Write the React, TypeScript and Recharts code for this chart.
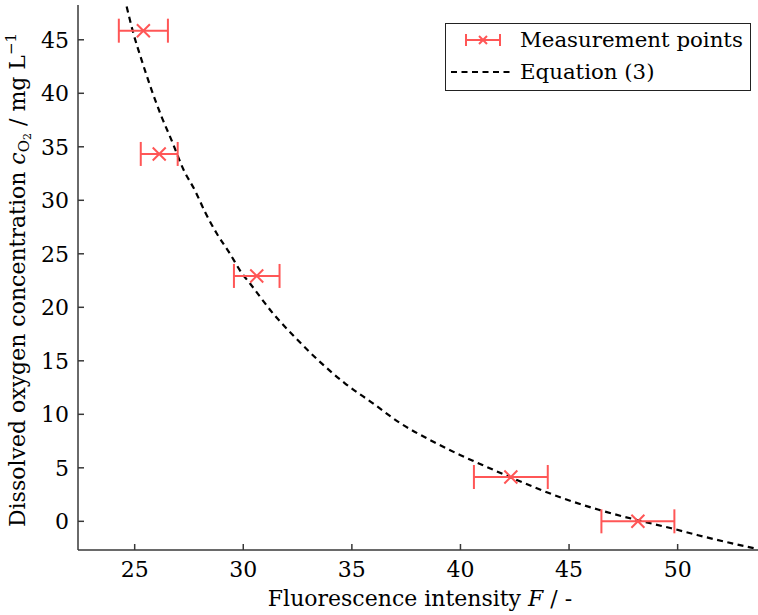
import React from "react";
import {
  ComposedChart,
  Line,
  Scatter,
  XAxis,
  YAxis,
  ErrorBar,
  Legend,
  Label,
} from "recharts";

// measured points (F, c) with horizontal error
const pointF = [25.4, 26.13, 30.62, 42.32, 48.17];
const pointC = [45.85, 34.33, 22.93, 4.14, 0.0];
const pointErr = [1.13, 0.85, 1.05, 1.7, 1.68];

// dashed curve
const curveF = [
  24.63, 24.94, 25.32, 25.78, 26.24, 26.7, 27.24, 27.78, 28.24, 28.78, 29.39,
  29.93, 30.32, 31.38, 32.38, 33.53, 34.68, 35.99, 37.21, 38.6, 39.98, 40.75,
  42.32, 44.8, 46.33, 48.17, 49.71, 50.94, 53.7,
];
const curveC = [
  48.1, 45.6, 43.1, 40.3, 37.8, 35.6, 32.9, 30.9, 28.9, 26.9, 25.0, 23.2, 22.2,
  19.4, 17.2, 14.9, 12.9, 11.0, 9.2, 7.6, 6.2, 5.5, 4.1, 2.1, 1.1, 0.1, -0.65,
  -1.3, -2.6,
];

const xTicks = [25, 30, 35, 40, 45, 50];
const yTicks = [0, 5, 10, 15, 20, 25, 30, 35, 40, 45];

const RED = "#ff5656";
const AXIS = "#383838";
const FONT = "'DejaVu Serif', serif";
const FS = 22;

const points = pointF.map((F, i) => ({ F, c: pointC[i], err: pointErr[i] }));
const curve = curveF.map((F, i) => ({ F, c: curveC[i] }));

const Cross = ({ cx, cy }: any) => (
  <path
    d={`M${cx - 6.5},${cy - 6.5}L${cx + 6.5},${cy + 6.5}M${cx - 6.5},${cy + 6.5}L${cx + 6.5},${cy - 6.5}`}
    stroke={RED}
    strokeWidth={2}
    fill="none"
  />
);

const BottomTick = ({ x, y, payload }: any) => (
  <g>
    <line x1={x} y1={y} x2={x} y2={y - 6} stroke={AXIS} strokeWidth={1.5} />
    <text x={x} y={y + 27} textAnchor="middle" fontFamily={FONT} fontSize={FS} fill="#000">
      {payload.value}
    </text>
  </g>
);

const TopTick = ({ x, y }: any) => (
  <line x1={x} y1={y} x2={x} y2={y + 6} stroke={AXIS} strokeWidth={1.5} />
);

const LeftTick = ({ x, y, payload }: any) => (
  <g>
    <line x1={x} y1={y} x2={x + 6} y2={y} stroke={AXIS} strokeWidth={1.5} />
    <text x={x - 9} y={y} dy="0.36em" textAnchor="end" fontFamily={FONT} fontSize={FS} fill="#000">
      {payload.value}
    </text>
  </g>
);

const XTitle = () => (
  <text x={420} y={606} textAnchor="middle" fontFamily={FONT} fontSize={FS} fill="#000">
    Fluorescence intensity <tspan fontStyle="italic">F</tspan> / -
  </text>
);

const YTitle = () => (
  <text
    x={25}
    y={280}
    transform="rotate(-90, 25, 280)"
    textAnchor="middle"
    fontFamily={FONT}
    fontSize={FS}
    fill="#000"
  >
    Dissolved oxygen concentration <tspan fontStyle="italic">c</tspan>
    <tspan fontSize={15} dy={4}>O</tspan>
    <tspan fontSize={11} dy={2}>2</tspan>
    <tspan dy={-6}> / mg L</tspan>
    <tspan fontSize={15} dy={-9}>−1</tspan>
  </text>
);

const LegendBox = () => (
  <svg width={306} height={68} style={{ display: "block" }}>
    <rect x={0.5} y={0.5} width={305} height={67} fill="#fff" stroke="#222" strokeWidth={1} />
    <line x1={21} y1={17} x2={55} y2={17} stroke={RED} strokeWidth={2} />
    <line x1={21} y1={11} x2={21} y2={23} stroke={RED} strokeWidth={2} />
    <line x1={55} y1={11} x2={55} y2={23} stroke={RED} strokeWidth={2} />
    <path d="M34,13L42,21M34,21L42,13" stroke={RED} strokeWidth={2} />
    <line x1={6} y1={49} x2={66} y2={49} stroke="#000" strokeWidth={2.2} strokeDasharray="6 4.5" />
    <text x={75} y={24} fontFamily={FONT} fontSize={21.3} fill="#000">
      Measurement points
    </text>
    <text x={75} y={56} fontFamily={FONT} fontSize={21.3} fill="#000">
      Equation (3)
    </text>
  </svg>
);

export default function App() {
  return (
    <div style={{ position: "absolute", left: 0, top: 0, background: "#fff" }}>
      <ComposedChart width={758} height={615} margin={{ top: 5, right: 0, bottom: 0, left: 0 }}>
        <XAxis
          dataKey="F"
          type="number"
          domain={[22.39, 53.7]}
          ticks={xTicks}
          allowDataOverflow
          height={65}
          tickSize={0}
          tickMargin={0}
          tick={<BottomTick />}
          axisLine={{ stroke: AXIS, strokeWidth: 1.5 }}
        >
          <Label content={<XTitle />} />
        </XAxis>
        <XAxis
          xAxisId="top"
          orientation="top"
          dataKey="F"
          type="number"
          domain={[22.39, 53.7]}
          ticks={xTicks}
          allowDataOverflow
          height={0}
          tickSize={0}
          tickMargin={0}
          tick={<TopTick />}
          axisLine={{ stroke: AXIS, strokeWidth: 1.5 }}
        />
        <YAxis
          type="number"
          domain={[-2.68, 48.25]}
          ticks={yTicks}
          allowDataOverflow
          width={78}
          tickSize={0}
          tickMargin={0}
          tick={<LeftTick />}
          axisLine={{ stroke: AXIS, strokeWidth: 1.5 }}
        >
          <Label content={<YTitle />} />
        </YAxis>
        <Line
          data={curve}
          dataKey="c"
          type="monotone"
          stroke="#000"
          strokeWidth={2.2}
          strokeDasharray="6 4.5"
          dot={false}
          isAnimationActive={false}
          legendType="none"
        />
        <Scatter data={points} dataKey="c" shape={<Cross />} isAnimationActive={false}>
          <ErrorBar dataKey="err" direction="x" width={12} stroke={RED} strokeWidth={2} />
        </Scatter>
        <Legend
          layout="horizontal"
          align="center"
          verticalAlign="middle"
          content={<LegendBox />}
          wrapperStyle={{ position: "absolute", left: 445, top: 23, width: 306, height: 68 }}
        />
      </ComposedChart>
    </div>
  );
}
